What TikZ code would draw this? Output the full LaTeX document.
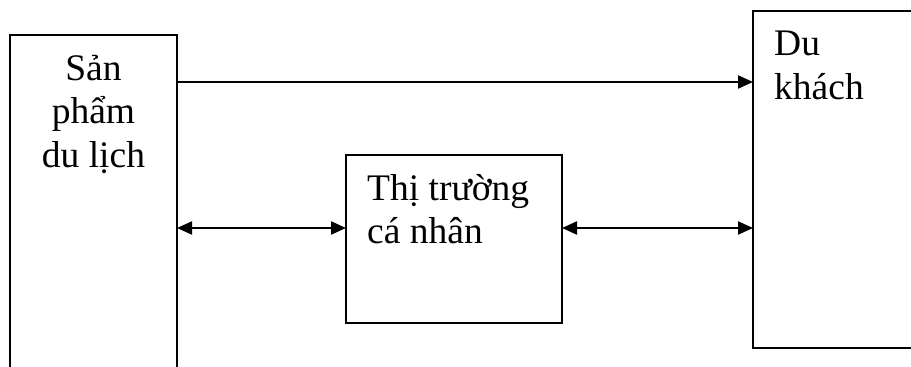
\documentclass[tikz,border=0pt]{standalone}
\usepackage{fontspec}
\setmainfont{Liberation Serif}
\usetikzlibrary{arrows.meta}
\begin{document}
\begin{tikzpicture}[x=1pt,y=-1pt,
  >={Triangle[length=15pt,width=13pt]},
  boxline/.style={line width=2.2pt},
  midline/.style={line width=1.6pt},
  conn/.style={line width=2.2pt},
  lbl/.style={font=\fontsize{37.5}{45}\selectfont, inner sep=0pt, anchor=base},
  lbll/.style={font=\fontsize{37.5}{45}\selectfont, inner sep=0pt, anchor=base west},
  area/.style={inner sep=0pt, outer sep=0pt}]
\useasboundingbox (0,0) rectangle (911,367);
\clip (0,0) rectangle (911,367);
% box areas
\node[area, minimum width=167pt, minimum height=350pt] (L) at (93.5,210) {};
\node[area, minimum width=180pt, minimum height=337pt] (R) at (843,179.5) {};
\node[area, minimum width=216pt, minimum height=168pt] (M) at (454,239) {};
% borders
\draw[boxline] (L.south west) -- (L.north west) -- (L.north east) -- (L.south east);
\draw[boxline] (R.north east) -- (R.north west) -- (R.south west) -- (R.south east);
\draw[midline] (M.south west) rectangle (M.north east);
% texts
\node[lbl] (l1) at (93.5,80) {Sản};
\node[lbl] (l2) at (93.5,123.5) {phẩm};
\node[lbl] (l3) at (93.5,167) {du lịch};
\node[lbll] (r1) at (774,55) {Du};
\node[lbll] (r2) at (774,99) {khách};
\node[lbll] (m1) at (367,200) {Thị trường};
\node[lbll] (m2) at (367,243) {cá nhân};
% connectors
\coordinate (a1) at (L.east |- 0,82);
\coordinate (a2) at (R.west |- 0,82);
\draw[conn, ->] (a1) -- (a2);
\coordinate (b1) at (L.east |- 0,228);
\coordinate (b2) at (M.west |- 0,228);
\draw[conn, <->] (b1) -- (b2);
\coordinate (c1) at (M.east |- 0,228);
\coordinate (c2) at (R.west |- 0,228);
\draw[conn, <->] (c1) -- (c2);
\end{tikzpicture}
\end{document}
